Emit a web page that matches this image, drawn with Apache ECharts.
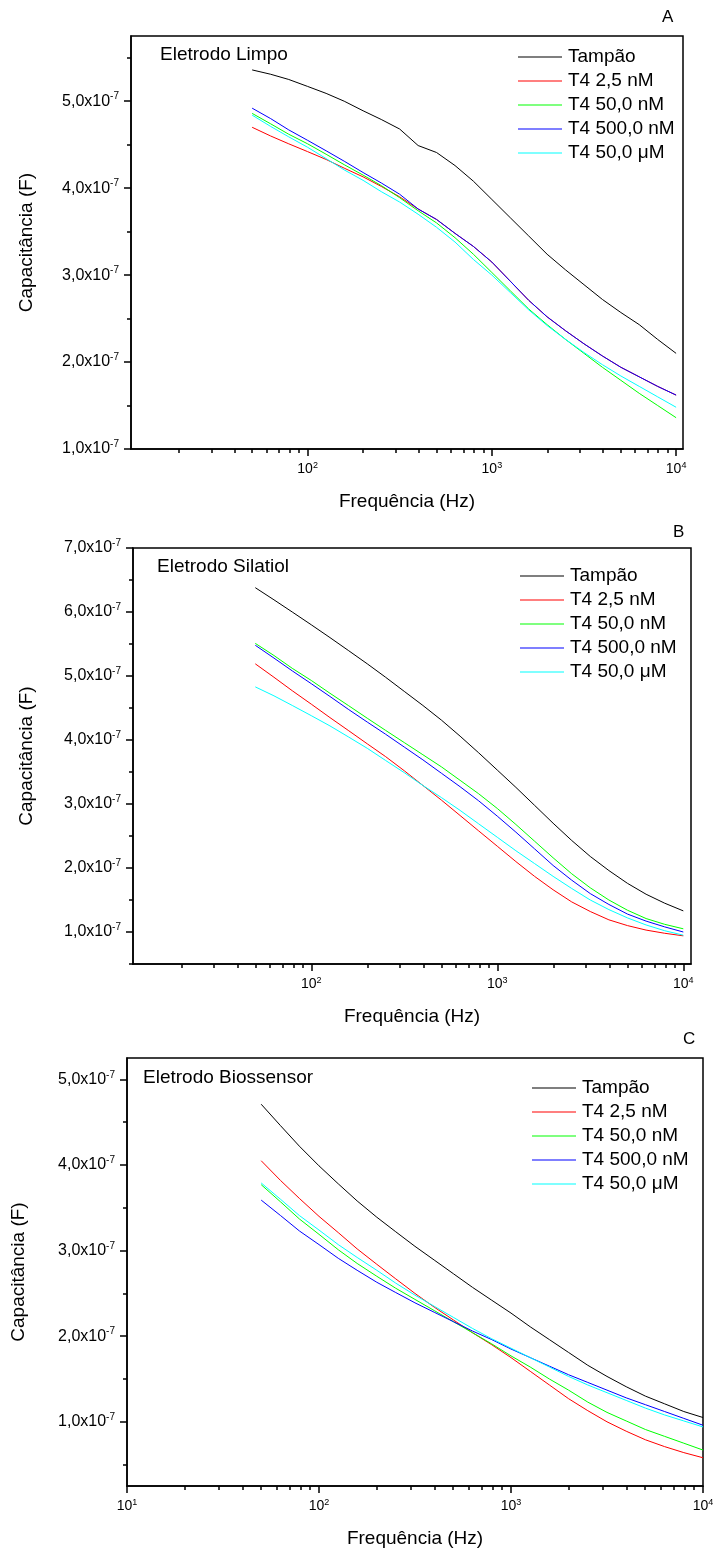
<!DOCTYPE html>
<html>
<head>
<meta charset="utf-8">
<title>Capacitância x Frequência</title>
<script src="https://cdn.jsdelivr.net/npm/echarts@6/dist/echarts.min.js"></script>
<style>
  html, body { margin: 0; padding: 0; background: #fff; }
  #chart { width: 717px; height: 1555px; }
</style>
</head>
<body>
<div id="chart"></div>
<script>
// frequências (Hz), iguais para todas as curvas
var freq = [50, 63, 79, 100, 126, 158, 200, 251, 316, 398, 501, 631, 794, 1000,
  1259, 1585, 1995, 2512, 3162, 3981, 5012, 6310, 7943, 10000];

var seriesNames = ["Tampão", "T4 2,5 nM", "T4 50,0 nM", "T4 500,0 nM", "T4 50,0 \u03bcM"];
var seriesColors = ["#000000", "#ff0000", "#00ff00", "#0000ff", "#00ffff"];

// capacitância em unidades de 1e-7 F
// A - Eletrodo Limpo
var tampaoA = [5.36, 5.31, 5.25, 5.17, 5.09, 5.00, 4.89, 4.79, 4.68, 4.49, 4.41, 4.26, 4.08, 3.87, 3.66, 3.45, 3.24, 3.06, 2.89, 2.72, 2.57, 2.43, 2.26, 2.10];
var t4_25A = [4.70, 4.60, 4.51, 4.42, 4.33, 4.23, 4.13, 4.02, 3.90, 3.76, 3.64, 3.48, 3.33, 3.15, 2.93, 2.71, 2.52, 2.36, 2.21, 2.07, 1.94, 1.83, 1.72, 1.62];
var t4_50A = [4.86, 4.74, 4.62, 4.51, 4.39, 4.27, 4.15, 4.03, 3.89, 3.74, 3.60, 3.43, 3.24, 3.03, 2.82, 2.61, 2.43, 2.26, 2.10, 1.94, 1.79, 1.64, 1.50, 1.36];
var t4_500A = [4.92, 4.80, 4.67, 4.55, 4.43, 4.31, 4.18, 4.06, 3.93, 3.76, 3.64, 3.48, 3.33, 3.15, 2.93, 2.71, 2.52, 2.36, 2.21, 2.07, 1.94, 1.83, 1.72, 1.62];
var t4_50uA = [4.84, 4.71, 4.59, 4.47, 4.34, 4.21, 4.09, 3.96, 3.84, 3.70, 3.55, 3.38, 3.18, 3.00, 2.80, 2.60, 2.42, 2.26, 2.11, 1.97, 1.84, 1.72, 1.60, 1.48];

// B - Eletrodo Silatiol
var tampaoB = [6.38, 6.19, 6.00, 5.80, 5.60, 5.40, 5.19, 4.98, 4.76, 4.54, 4.31, 4.06, 3.80, 3.53, 3.26, 2.98, 2.70, 2.43, 2.18, 1.96, 1.76, 1.59, 1.45, 1.33];
var t4_25B = [5.19, 4.98, 4.77, 4.56, 4.35, 4.15, 3.94, 3.74, 3.52, 3.29, 3.06, 2.82, 2.58, 2.34, 2.10, 1.87, 1.66, 1.47, 1.32, 1.19, 1.10, 1.03, 0.98, 0.94];
var t4_50B = [5.51, 5.32, 5.12, 4.93, 4.73, 4.54, 4.34, 4.15, 3.96, 3.77, 3.58, 3.37, 3.16, 2.93, 2.68, 2.42, 2.16, 1.91, 1.69, 1.50, 1.34, 1.21, 1.12, 1.05];
var t4_500B = [5.48, 5.28, 5.08, 4.88, 4.68, 4.48, 4.28, 4.09, 3.89, 3.69, 3.48, 3.27, 3.05, 2.81, 2.56, 2.30, 2.04, 1.81, 1.60, 1.43, 1.28, 1.17, 1.08, 1.00];
var t4_50uB = [4.83, 4.69, 4.54, 4.38, 4.22, 4.05, 3.87, 3.68, 3.49, 3.29, 3.10, 2.90, 2.69, 2.48, 2.27, 2.07, 1.87, 1.68, 1.50, 1.35, 1.22, 1.11, 1.02, 0.95];

// C - Eletrodo Biossensor
var tampaoC = [4.71, 4.46, 4.22, 3.99, 3.78, 3.58, 3.39, 3.22, 3.05, 2.89, 2.73, 2.57, 2.42, 2.27, 2.11, 1.96, 1.81, 1.66, 1.53, 1.41, 1.30, 1.21, 1.12, 1.05];
var t4_25C = [4.05, 3.82, 3.61, 3.40, 3.21, 3.02, 2.84, 2.67, 2.50, 2.34, 2.19, 2.04, 1.90, 1.75, 1.59, 1.43, 1.27, 1.13, 1.00, 0.89, 0.79, 0.71, 0.64, 0.58];
var t4_50C = [3.77, 3.57, 3.37, 3.19, 3.01, 2.85, 2.70, 2.56, 2.43, 2.30, 2.17, 2.04, 1.91, 1.77, 1.64, 1.50, 1.37, 1.23, 1.11, 1.01, 0.91, 0.83, 0.75, 0.67];
var t4_500C = [3.59, 3.41, 3.23, 3.07, 2.91, 2.77, 2.63, 2.51, 2.39, 2.28, 2.17, 2.06, 1.96, 1.85, 1.75, 1.65, 1.55, 1.46, 1.37, 1.28, 1.20, 1.12, 1.04, 0.96];
var t4_50uC = [3.79, 3.60, 3.41, 3.24, 3.07, 2.92, 2.77, 2.62, 2.48, 2.35, 2.22, 2.09, 1.97, 1.86, 1.75, 1.64, 1.53, 1.43, 1.34, 1.25, 1.16, 1.08, 1.01, 0.94];

var panelData = [
  [tampaoA, t4_25A, t4_50A, t4_500A, t4_50uA],
  [tampaoB, t4_25B, t4_50B, t4_500B, t4_50uB],
  [tampaoC, t4_25C, t4_50C, t4_500C, t4_50uC],
];
var panelTitles = ["Eletrodo Limpo", "Eletrodo Silatiol", "Eletrodo Biossensor"];
var panelLetters = ["A", "B", "C"];

// ticks
var xMajorTicks = [10, 100, 1000, 10000];
var xMinorTicks = [20, 30, 40, 50, 60, 70, 80, 90, 200, 300, 400, 500, 600, 700, 800, 900,
  2000, 3000, 4000, 5000, 6000, 7000, 8000, 9000];
var yMajorTicks = [[1, 2, 3, 4, 5], [1, 2, 3, 4, 5, 6, 7], [1, 2, 3, 4, 5]];
var yMinorTicks = [[1.5, 2.5, 3.5, 4.5, 5.5], [0.5, 1.5, 2.5, 3.5, 4.5, 5.5, 6.5], [0.5, 1.5, 2.5, 3.5, 4.5]];

// layout
var FONT = '"Liberation Sans", Arial, sans-serif';
var grids = [
  { left: 131, top: 36, width: 552, height: 413 },
  { left: 133, top: 548, width: 558, height: 416 },
  { left: 127, top: 1058, width: 576, height: 428 },
];
var xRanges = [[11, 10900], [11, 11000], [10, 10000]];
var yRanges = [[1, 5.75], [0.5, 7], [0.25, 5.25]];
var legendPos = [[513, 42], [515, 561], [527, 1073]];
var titlePos = [[160, 45], [157, 557], [143, 1068]];
var letterPos = [[662, 9], [673, 524], [683, 1031]];
var yNameGap = [95, 97, 99];

var chart = echarts.init(document.getElementById("chart"), null, { renderer: "canvas" });

var xAxes = [];
var yAxes = [];
var series = [];
var legends = [];
var graphics = [];

var xLabelRich = {
  b: { fontSize: 14, fontFamily: FONT, color: "#000" },
  s: { fontSize: 9, fontFamily: FONT, color: "#000", padding: [0, 0, 8, 0] },
};
var yLabelRich = {
  b: { fontSize: 16, fontFamily: FONT, color: "#000" },
  s: { fontSize: 10, fontFamily: FONT, color: "#000", padding: [0, 0, 9, 0] },
};
var axisLineStyle = { color: "#000", width: 1.5 };

for (var p = 0; p < 3; p++) {
  // eixo x principal (log) com rótulos 10^n
  xAxes.push({
    type: "log",
    gridIndex: p,
    position: "bottom",
    min: xRanges[p][0],
    max: xRanges[p][1],
    name: "Frequência (Hz)",
    nameLocation: "middle",
    nameGap: 43,
    nameTextStyle: { fontSize: 19, fontFamily: FONT, color: "#000" },
    axisLine: { lineStyle: axisLineStyle },
    axisTick: { inside: false, length: 7, customValues: xMajorTicks, lineStyle: axisLineStyle },
    axisLabel: {
      customValues: xMajorTicks,
      margin: 12,
      formatter: function (v) {
        return "{b|10}{s|" + Math.round(Math.log10(v)) + "}";
      },
      rich: xLabelRich,
    },
    splitLine: { show: false },
  });
  // eixo x secundário só para os ticks menores
  xAxes.push({
    type: "log",
    gridIndex: p,
    position: "bottom",
    min: xRanges[p][0],
    max: xRanges[p][1],
    axisLine: { show: false },
    axisTick: { inside: false, length: 4, customValues: xMinorTicks, lineStyle: axisLineStyle },
    axisLabel: { show: false },
    splitLine: { show: false },
  });

  yAxes.push({
    type: "value",
    gridIndex: p,
    position: "left",
    min: yRanges[p][0],
    max: yRanges[p][1],
    name: "Capacitância (F)",
    nameLocation: "middle",
    nameGap: yNameGap[p],
    nameTextStyle: { fontSize: 19, fontFamily: FONT, color: "#000" },
    axisLine: { show: true, lineStyle: axisLineStyle },
    axisTick: { show: true, inside: false, length: 7, customValues: yMajorTicks[p], lineStyle: axisLineStyle },
    axisLabel: {
      customValues: yMajorTicks[p],
      margin: 12,
      formatter: function (v) {
        return "{b|" + v.toFixed(1).replace(".", ",") + "x10}{s|-7}";
      },
      rich: yLabelRich,
    },
    splitLine: { show: false },
  });
  yAxes.push({
    type: "value",
    gridIndex: p,
    position: "left",
    min: yRanges[p][0],
    max: yRanges[p][1],
    axisLine: { show: false },
    axisTick: { show: true, inside: false, length: 4, customValues: yMinorTicks[p], lineStyle: axisLineStyle },
    axisLabel: { show: false },
    splitLine: { show: false },
  });

  for (var s = 0; s < seriesNames.length; s++) {
    var vals = panelData[p][s];
    series.push({
      type: "line",
      name: seriesNames[s],
      xAxisIndex: 2 * p,
      yAxisIndex: 2 * p,
      data: freq.map(function (f, k) {
        return [f, vals[k]];
      }),
      symbol: "none",
      color: seriesColors[s],
      lineStyle: { width: 1, color: seriesColors[s] },
      silent: true,
    });
  }

  legends.push({
    orient: "vertical",
    left: legendPos[p][0],
    top: legendPos[p][1],
    icon: "rect",
    itemWidth: 44,
    itemHeight: 1,
    itemGap: 4,
    selectedMode: false,
    data: seriesNames,
    textStyle: { fontSize: 19, lineHeight: 20, fontFamily: FONT, color: "#000", padding: [0, 0, 0, 1] },
  });

  graphics.push({
    type: "text",
    left: titlePos[p][0],
    top: titlePos[p][1],
    style: { text: panelTitles[p], font: "19px " + FONT, fill: "#000" },
  });
  graphics.push({
    type: "text",
    left: letterPos[p][0],
    top: letterPos[p][1],
    style: { text: panelLetters[p], font: "17px " + FONT, fill: "#000" },
  });
}

chart.setOption({
  animation: false,
  backgroundColor: "#fff",
  textStyle: { fontFamily: FONT },
  grid: grids.map(function (g) {
    return Object.assign({ show: true, borderColor: "#000", borderWidth: 1.5, backgroundColor: "transparent" }, g);
  }),
  xAxis: xAxes,
  yAxis: yAxes,
  legend: legends,
  graphic: graphics,
  series: series,
});
</script>
</body>
</html>
